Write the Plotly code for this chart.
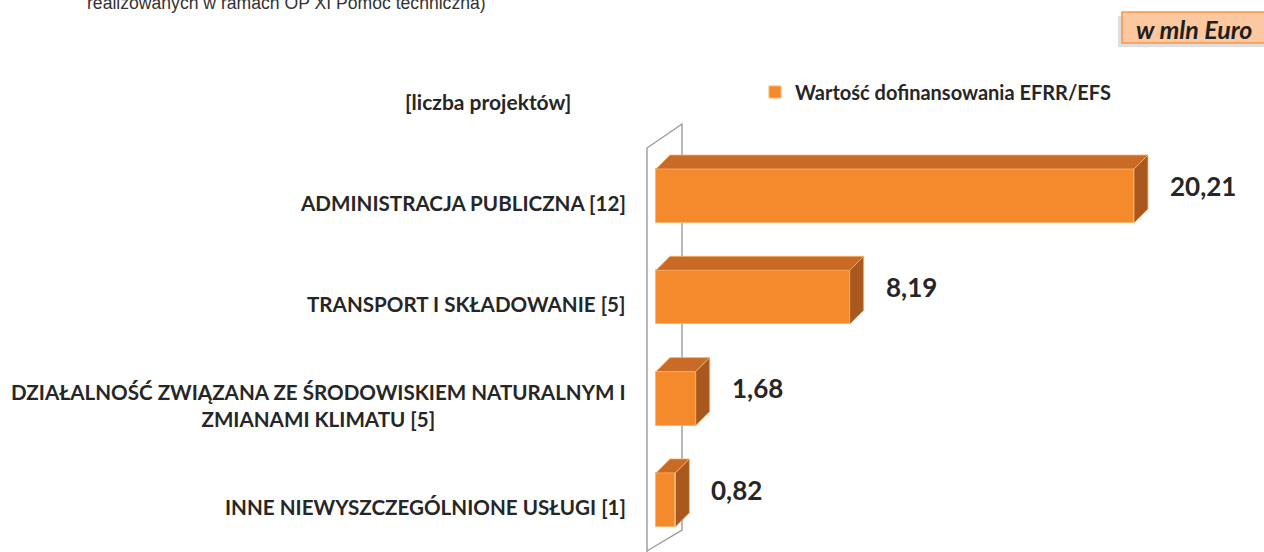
"""Wartość dofinansowania EFRR/EFS wg kategorii - wykres słupkowy 3D."""

import plotly.graph_objects as go

categories = [
    "ADMINISTRACJA PUBLICZNA [12]",
    "TRANSPORT I SKŁADOWANIE [5]",
    "DZIAŁALNOŚĆ ZWIĄZANA ZE ŚRODOWISKIEM NATURALNYM I<br>ZMIANAMI KLIMATU [5]",
    "INNE NIEWYSZCZEGÓLNIONE USŁUGI [1]",
]
values = [20.21, 8.19, 1.68, 0.82]
value_labels = ["20,21", "8,19", "1,68", "0,82"]
series_name = "Wartość dofinansowania EFRR/EFS"

FONT = "Lato"
TXT = "#262626"
FRONT = "#f48a2c"
TOP = "#c96a26"
SIDE = "#a9591f"
EDGE = "#fbb46c"

W, H = 1264, 552
ML, MT = 630, 120          # plot area origin in pixels
PW, PH = W - ML, H - MT
PX_X = 23.65  # pixels per value unit
PX_Y = 101.3  # pixels per category step
Y0 = 203      # pixel row of the first category
x0 = -26 / PX_X
x_range = [x0, x0 + PW / PX_X]
y_top = -(Y0 - MT) / PX_Y
y_range = [y_top + PH / PX_Y, y_top]


def px(sx):
    """Pixel x -> paper x."""
    return (sx - ML) / PW


def py(sy):
    """Pixel y -> paper y."""
    return 1 - (sy - MT) / PH


def dy_data(sy):
    """Pixel y -> data y."""
    return (sy - Y0) / PX_Y


bar_w = 54 / PX_Y
shift = -7 / PX_Y
dx = 14 / PX_X
dy = 14 / PX_Y

ypos = list(range(len(categories)))

fig = go.Figure()
fig.add_trace(
    go.Bar(
        x=values,
        y=ypos,
        orientation="h",
        width=bar_w,
        offset=shift - bar_w / 2,
        name=series_name,
        marker=dict(color=FRONT, line=dict(color=EDGE, width=1)),
        hoverinfo="skip",
    )
)

# 3D top and side faces derived from the bar values
for v, p in zip(values, ypos):
    yt = p + shift - bar_w / 2
    yb = p + shift + bar_w / 2
    fig.add_trace(
        go.Scatter(
            x=[0, v, v + dx, dx, 0],
            y=[yt, yt, yt - dy, yt - dy, yt],
            fill="toself",
            fillcolor=TOP,
            mode="lines",
            line=dict(color=EDGE, width=0.8),
            showlegend=False,
            hoverinfo="skip",
        )
    )
    fig.add_trace(
        go.Scatter(
            x=[v, v + dx, v + dx, v, v],
            y=[yt, yt - dy, yb - dy, yb, yt],
            fill="toself",
            fillcolor=SIDE,
            mode="lines",
            line=dict(color=EDGE, width=0.8),
            showlegend=False,
            hoverinfo="skip",
        )
    )

# value labels
for v, p, t in zip(values, ypos, value_labels):
    fig.add_annotation(
        x=v + dx, y=p - 0.17, xref="x", yref="y", text=t, showarrow=False,
        xanchor="left", xshift=20,
        font=dict(family=FONT, size=26, color=TXT, weight="bold"),
    )

# category labels
for p, c in zip(ypos, categories):
    fig.add_annotation(
        x=px(628), y=p, xref="paper", yref="y", text=c, showarrow=False,
        xanchor="right", align="center",
        font=dict(family=FONT, size=20.6, color=TXT, weight="bold"),
    )

# back wall
wall_fx, wall_bx = (647 - 656) / PX_X, (682 - 656) / PX_X
fig.add_shape(
    type="path",
    path=(f"M {wall_fx},{dy_data(570)} L {wall_fx},{dy_data(148)} "
          f"L {wall_bx},{dy_data(124)} L {wall_bx},{dy_data(530)} "
          f"L {wall_fx},{dy_data(551)}"),
    xref="x", yref="y", line=dict(color="#959ca3", width=1.4),
    fillcolor="rgba(0,0,0,0)", layer="below",
)

fig.add_annotation(
    x=px(488), y=py(101), xref="paper", yref="paper",
    text="[liczba projektów]", showarrow=False, xanchor="center", yanchor="middle",
    font=dict(family=FONT, size=21, color=TXT, weight="bold"),
)

# cut-off title line at the very top
fig.add_annotation(
    x=px(85), y=py(3), xref="paper", yref="paper",
    text="realizowanych w ramach OP XI Pomoc techniczna)", showarrow=False,
    xanchor="left", yanchor="middle",
    font=dict(family="Liberation Sans", size=17.6, color="#333333"),
)

# unit box
fig.add_shape(
    type="rect", xref="paper", yref="paper",
    x0=px(1118), x1=px(1275), y0=py(47), y1=py(16),
    fillcolor="rgba(0,0,0,0.13)", line=dict(width=0), layer="below",
)
fig.add_shape(
    type="rect", xref="paper", yref="paper",
    x0=px(1122), x1=px(1275), y0=py(43), y1=py(12),
    fillcolor="#fbc8a0", line=dict(color="#f79646", width=1.5), layer="below",
)
fig.add_annotation(
    x=px(1194), y=py(29), xref="paper", yref="paper",
    text="w mln Euro", showarrow=False, xanchor="center", yanchor="middle",
    font=dict(family=FONT, size=25, color="#1f1f1f", weight="bold", style="italic"),
)

fig.update_layout(
    width=W, height=H,
    margin=dict(l=ML, r=0, t=MT, b=0),
    paper_bgcolor="white", plot_bgcolor="white",
    xaxis=dict(range=x_range, visible=False, fixedrange=True),
    yaxis=dict(range=y_range, visible=False, fixedrange=True),
    showlegend=True,
    legend=dict(
        x=px(755), y=py(92), xanchor="left", yanchor="middle",
        font=dict(family=FONT, size=20, color=TXT, weight="bold"),
        bgcolor="rgba(0,0,0,0)",
    ),
    bargap=0,
)

# drop the default 8px page margin so the figure fills the window exactly
fig.write_html(
    "out.html",
    config={"displayModeBar": False},
    post_script="document.body.style.margin='0';",
)
